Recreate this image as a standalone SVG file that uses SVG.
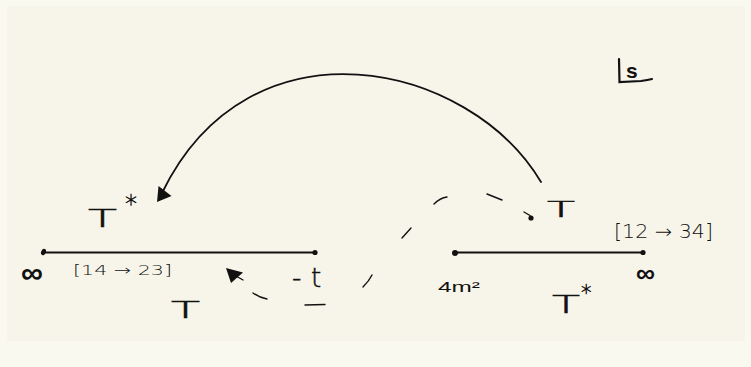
<svg xmlns="http://www.w3.org/2000/svg" width="751" height="367" viewBox="0 0 751 367">
<style>
.ln{stroke:#111;stroke-width:2.2;fill:none;stroke-linecap:round}
.arc{stroke:#111;stroke-width:1.8;fill:none;stroke-linecap:round}
.ds{stroke:#111;stroke-width:1.4;fill:none;stroke-linecap:round}
.dot{fill:#111}
.h{font-family:"Liberation Sans",Arial,sans-serif;fill:#111}
.t{font-family:"DejaVu Sans","Liberation Sans",sans-serif;font-weight:200;fill:#111}
.tb{stroke:#111;stroke-width:0.5}
</style>
<rect x="0" y="0" width="751" height="367" fill="#FAF9F0"/>
<rect x="7" y="6" width="738" height="335" fill="#F7F5E9"/>

<g id="left-segment">
<line class="ln" x1="43" y1="252.5" x2="315" y2="252.5"/>
<ellipse class="dot" cx="43.5" cy="252" rx="2.3" ry="3.3" transform="rotate(25 43.5 252)"/>
<circle class="dot" cx="315" cy="252.5" r="2.6"/>
<text class="h" x="21" y="283" font-size="30" font-weight="bold" textLength="22" lengthAdjust="spacingAndGlyphs">∞</text>
<text class="t" x="73" y="275" font-size="14" textLength="99" lengthAdjust="spacingAndGlyphs">[14 → 23]</text>
<text class="t tb" x="292" y="287" font-size="26"><tspan x="292">-</tspan><tspan x="311">t</tspan></text>
</g>

<g id="right-segment">
<line class="ln" x1="455" y1="252.5" x2="643" y2="252.5"/>
<circle class="dot" cx="455" cy="253" r="3"/>
<circle class="dot" cx="643" cy="252.5" r="2.6"/>
<text class="h" x="438" y="292" font-size="15" textLength="42" lengthAdjust="spacingAndGlyphs">4m²</text>
<text class="h" x="636" y="282" font-size="26" font-weight="bold" textLength="19" lengthAdjust="spacingAndGlyphs">∞</text>
<text class="t" x="614" y="238" font-size="19" textLength="99" lengthAdjust="spacingAndGlyphs">[12 → 34]</text>
</g>

<g id="label-Tstar-left">
<text class="t tb" x="88" y="227" font-size="25"><tspan textLength="29" lengthAdjust="spacingAndGlyphs">T</tspan><tspan x="125" y="212" font-size="24">*</tspan></text>
</g>
<g id="label-T-bottom">
<text class="t tb" x="171" y="318" font-size="23" textLength="29" lengthAdjust="spacingAndGlyphs">T</text>
</g>
<g id="label-T-right">
<text class="t tb" x="547" y="217" font-size="21" textLength="28" lengthAdjust="spacingAndGlyphs">T</text>
</g>
<g id="label-Tstar-right">
<text class="t tb" x="552" y="313" font-size="24"><tspan textLength="28" lengthAdjust="spacingAndGlyphs">T</tspan><tspan x="581" y="300" font-size="21">*</tspan></text>
</g>
<g id="label-Ls">
<path class="ln" d="M619,59 L619.5,82 L641,81 Q648,80 652,79"/>
<text class="h" x="626" y="78" font-size="21" font-weight="bold">s</text>
</g>

<g id="connectors">
<path class="arc" d="M541,182 C470,62 250,12 162,193"/>
<polygon class="dot" points="157,202 158.5,186 171.5,196"/>
<circle class="dot" cx="531" cy="218" r="2.6"/>
<path class="ds" d="M524,212 L530,215.5"/>
<path class="ds" d="M487,194 L502,200"/>
<path class="ds" d="M434,204 Q440,198 447,197"/>
<path class="ds" d="M402,238 L411,228"/>
<path class="ds" d="M363,287 Q369,281 372,275"/>
<path class="ds" d="M305,305 L325,304.5"/>
<path class="ds" d="M253,293 Q260,298 267,299"/>
<polygon class="dot" points="226,268 243,272.5 231,283"/>
<path class="ds" d="M236,276 L243,280"/>
</g>
</svg>
